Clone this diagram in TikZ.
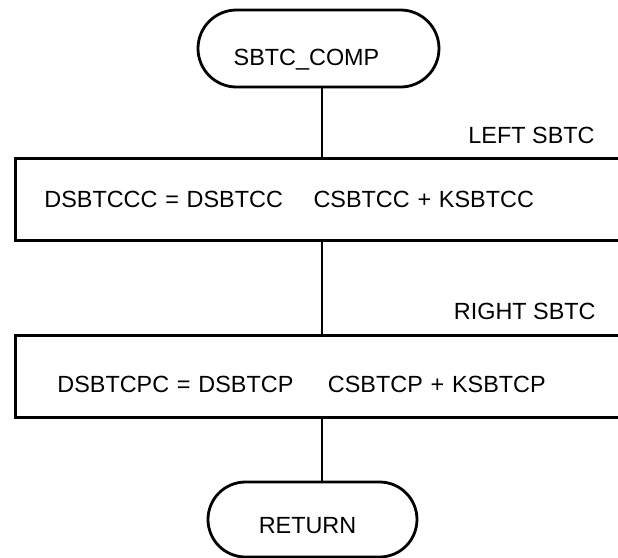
\documentclass[tikz,border=0pt]{standalone}
\usepackage{fontspec}
\setmainfont{Liberation Sans}
\usetikzlibrary{shapes.misc}
\begin{document}
\begin{tikzpicture}[x=0.5pt,y=-0.5pt,
	font=\fontsize{11.7pt}{14pt}\selectfont,
	terminal/.style={ rounded rectangle, draw, line width=1.4pt, inner sep=0pt, text depth=0pt },
	procbox/.style={ rectangle, draw, line width=1.4pt, anchor=north west, minimum height=41pt, text width=300pt, align=left, text depth=0pt },
	sidelabel/.style={ anchor=east, inner sep=0pt },
	flow/.style={ line width=1.4pt }
]
\useasboundingbox (0,0) rectangle (618,558);
\clip (0,0) rectangle (618,558);

\node[terminal, minimum width=120.5pt, minimum height=38.5pt, text height=16.9pt] at (318.5,48.5) (comp) {SBTC\_COMP\hspace*{12pt}};
\node[procbox, inner xsep=14.5pt, text height=8.4pt] at (14,157) (leftbox) {DSBTCCC = DSBTCC\hspace{15.3pt}CSBTCC + KSBTCC};
\node[procbox, inner xsep=21pt, text height=16pt] at (14,334) (rightbox) {DSBTCPC = DSBTCP\hspace{17.3pt}CSBTCP + KSBTCP};
\node[terminal, minimum width=104.5pt, minimum height=37.5pt, text height=13.9pt] at (312.5,519.5) (ret) {RETURN\hspace*{5pt}};

\node[sidelabel] at (595,135.5) (leftlbl) {LEFT SBTC};
\node[sidelabel] at (596,311.5) (rightlbl) {RIGHT SBTC};

\coordinate (spine) at (322,0);
\draw[flow] (spine |- comp.south) -- (spine |- leftbox.north);
\draw[flow] (spine |- leftbox.south) -- (spine |- rightbox.north);
\draw[flow] (spine |- rightbox.south) -- (spine |- ret.north);

\end{tikzpicture}
\end{document}
